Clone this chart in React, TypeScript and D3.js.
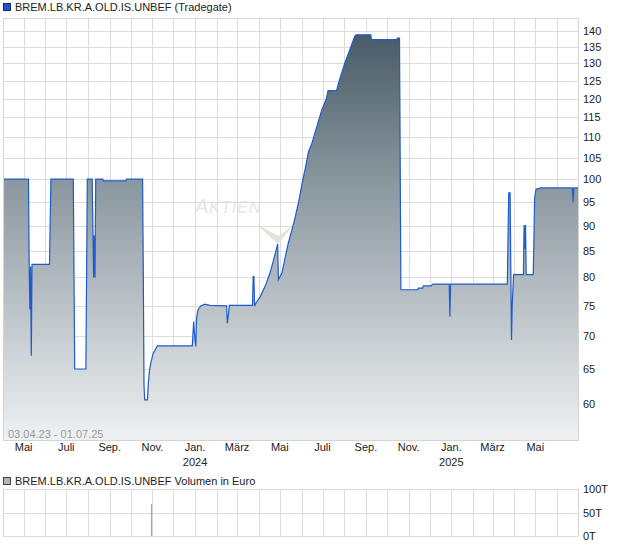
import React, { useEffect, useRef } from 'react';
import * as d3 from 'd3';

// price readings (Tradegate), date + close
const priceSeries: [string, number][] = [
  ['2023-04-03', 100.0],
  ['2023-05-08', 100.0],
  ['2023-05-09', 82.0],
  ['2023-05-10', 74.4],
  ['2023-05-11', 82.0],
  ['2023-05-12', 67.0],
  ['2023-05-13', 82.4],
  ['2023-06-07', 82.4],
  ['2023-06-08', 90.8],
  ['2023-06-09', 100.0],
  ['2023-07-11', 100.0],
  ['2023-07-12', 80.6],
  ['2023-07-13', 65.0],
  ['2023-07-29', 65.0],
  ['2023-07-30', 80.6],
  ['2023-07-31', 100.0],
  ['2023-08-07', 100.0],
  ['2023-08-08', 89.5],
  ['2023-08-09', 80.0],
  ['2023-08-10', 88.0],
  ['2023-08-11', 80.0],
  ['2023-08-12', 100.0],
  ['2023-08-22', 100.0],
  ['2023-08-23', 99.6],
  ['2023-09-24', 99.6],
  ['2023-09-25', 100.0],
  ['2023-10-18', 100.0],
  ['2023-10-19', 80.6],
  ['2023-10-20', 62.6],
  ['2023-10-21', 60.6],
  ['2023-10-25', 60.6],
  ['2023-10-26', 62.7],
  ['2023-10-28', 64.9],
  ['2023-10-30', 66.0],
  ['2023-11-02', 67.3],
  ['2023-11-05', 67.9],
  ['2023-11-08', 68.5],
  ['2023-12-28', 68.5],
  ['2023-12-29', 70.5],
  ['2023-12-30', 72.4],
  ['2023-12-31', 70.5],
  ['2024-01-02', 68.4],
  ['2024-01-03', 72.8],
  ['2024-01-05', 74.3],
  ['2024-01-09', 75.0],
  ['2024-01-15', 75.3],
  ['2024-01-22', 75.1],
  ['2024-02-15', 75.0],
  ['2024-02-16', 72.1],
  ['2024-02-18', 74.0],
  ['2024-02-19', 75.1],
  ['2024-03-23', 75.1],
  ['2024-03-24', 80.2],
  ['2024-03-25', 80.2],
  ['2024-03-26', 75.0],
  ['2024-03-28', 75.5],
  ['2024-04-03', 76.6],
  ['2024-04-10', 78.4],
  ['2024-04-17', 80.8],
  ['2024-04-24', 84.2],
  ['2024-04-27', 85.8],
  ['2024-04-28', 86.3],
  ['2024-04-29', 79.6],
  ['2024-05-04', 80.8],
  ['2024-05-09', 83.9],
  ['2024-05-13', 86.4],
  ['2024-05-21', 90.5],
  ['2024-05-28', 95.0],
  ['2024-06-02', 99.1],
  ['2024-06-07', 102.9],
  ['2024-06-11', 106.4],
  ['2024-06-16', 108.5],
  ['2024-06-23', 112.7],
  ['2024-06-30', 117.0],
  ['2024-07-06', 119.7],
  ['2024-07-09', 122.2],
  ['2024-07-21', 122.2],
  ['2024-07-26', 125.7],
  ['2024-08-02', 130.1],
  ['2024-08-09', 134.1],
  ['2024-08-16', 138.2],
  ['2024-08-18', 138.7],
  ['2024-09-08', 138.7],
  ['2024-09-09', 137.2],
  ['2024-10-15', 137.2],
  ['2024-10-16', 137.7],
  ['2024-10-19', 137.7],
  ['2024-10-20', 103.7],
  ['2024-10-21', 77.8],
  ['2024-11-14', 77.8],
  ['2024-11-15', 78.1],
  ['2024-11-21', 78.1],
  ['2024-11-22', 78.5],
  ['2024-12-03', 78.5],
  ['2024-12-04', 78.6],
  ['2024-12-06', 78.8],
  ['2024-12-29', 78.8],
  ['2024-12-30', 73.2],
  ['2024-12-31', 78.8],
  ['2025-03-22', 78.8],
  ['2025-03-23', 87.1],
  ['2025-03-24', 96.9],
  ['2025-03-26', 96.9],
  ['2025-03-27', 81.7],
  ['2025-03-28', 69.4],
  ['2025-03-29', 75.1],
  ['2025-03-31', 80.5],
  ['2025-04-14', 80.5],
  ['2025-04-15', 90.1],
  ['2025-04-16', 85.4],
  ['2025-04-17', 90.1],
  ['2025-04-18', 80.5],
  ['2025-04-28', 80.5],
  ['2025-04-29', 87.1],
  ['2025-04-30', 95.8],
  ['2025-05-02', 97.7],
  ['2025-05-09', 98.0],
  ['2025-06-23', 98.0],
  ['2025-06-24', 94.9],
  ['2025-06-25', 98.0],
  ['2025-07-01', 98.0]
];

// volume in thousand euro
const volumeSeries: [string, number][] = [['2023-10-30', 68]];

const priceTicks = [60, 65, 70, 75, 80, 85, 90, 95, 100, 105, 110, 115, 120, 125, 130, 135, 140];
const volumeTicks = [0, 50, 100];
const monthNames = ['Jan.', 'Feb.', 'März', 'Apr.', 'Mai', 'Juni', 'Juli', 'Aug.', 'Sep.', 'Okt.', 'Nov.', 'Dez.'];

const legendText = 'BREM.LB.KR.A.OLD.IS.UNBEF (Tradegate)';
const volumeLegendText = 'BREM.LB.KR.A.OLD.IS.UNBEF Volumen in Euro';
const rangeText = '03.04.23 - 01.07.25';
const startDate = '2023-04-03';
const endDate = '2025-07-01';

const W = 620;
const H = 546;
const FONT = '"Liberation Sans", Arial, sans-serif';

const App = () => {
  const container = useRef(null);

  useEffect(() => {
    drawChart();
  }, []);

  const drawChart = () => {
    const parse = d3.timeParse('%Y-%m-%d');
    const prices = priceSeries.map(d => ({ time: parse(d[0]), value: d[1] }));
    const volumes = volumeSeries.map(d => ({ time: parse(d[0]), value: d[1] }));

    const plot = { l: 3, r: 578, t: 18, b: 440 };
    const vplot = { t: 489, b: 536 };

    const svg = d3
      .select(container.current)
      .selectAll('svg')
      .data([0])
      .join('svg')
      .attr('width', W)
      .attr('height', H)
      .style('position', 'absolute')
      .style('left', '0px')
      .style('top', '0px')
      .style('font-family', FONT);

    svg.selectAll('*').remove();

    const xScale = d3
      .scaleTime()
      .domain([parse(startDate), parse(endDate)])
      .range([plot.l + 1, plot.r]);

    const yScale = d3.scaleLog().domain([55.33, 144.1]).range([plot.b, plot.t]);

    const vScale = d3.scaleLinear().domain([0, 100]).range([vplot.b, vplot.t]);

    const months = d3.timeMonth.range(d3.timeMonth.ceil(parse(startDate)), parse(endDate));

    // gradient for the area
    const defs = svg.append('defs');
    const grad = defs
      .append('linearGradient')
      .attr('id', 'areaGrad')
      .attr('gradientUnits', 'userSpaceOnUse')
      .attr('x1', 0)
      .attr('x2', 0)
      .attr('y1', 30)
      .attr('y2', plot.b);
    grad.append('stop').attr('offset', '0%').attr('stop-color', '#465966');
    grad.append('stop').attr('offset', '37%').attr('stop-color', '#8a979e');
    grad.append('stop').attr('offset', '100%').attr('stop-color', '#eff1f3');

    /* MAIN PLOT GRID */
    const gridg = svg.append('g').attr('class', 'gridg');
    gridg
      .selectAll('.vgrid')
      .data(months)
      .join('line')
      .attr('class', 'vgrid')
      .attr('x1', d => Math.round(xScale(d)) + 0.5)
      .attr('x2', d => Math.round(xScale(d)) + 0.5)
      .attr('y1', plot.t)
      .attr('y2', plot.b)
      .style('stroke', '#dcdcdc');
    gridg
      .selectAll('.hgrid')
      .data(priceTicks)
      .join('line')
      .attr('class', 'hgrid')
      .attr('x1', plot.l)
      .attr('x2', plot.r)
      .attr('y1', d => Math.round(yScale(d)) + 0.5)
      .attr('y2', d => Math.round(yScale(d)) + 0.5)
      .style('stroke', '#dcdcdc');

    // watermark
    const wm = svg.append('g').attr('class', 'watermark');
    const wmText = wm
      .append('text')
      .attr('x', 195)
      .attr('y', 213)
      .style('font-style', 'italic')
      .style('fill', '#e8e4df')
      .style('letter-spacing', '1px');
    wmText.append('tspan').style('font-size', '20px').text('A');
    wmText.append('tspan').style('font-size', '16px').text('KTIEN');
    wm.append('path')
      .attr('d', 'M256,224 L278,244 L296,222 L279,236 Z')
      .style('fill', '#e6e1db');

    /* AREA + LINE */
    const area = d3
      .area<any>()
      .x(d => xScale(d.time))
      .y0(plot.b)
      .y1(d => yScale(d.value));

    const line = d3
      .line<any>()
      .x(d => xScale(d.time))
      .y(d => yScale(d.value));

    svg
      .append('path')
      .datum(prices)
      .attr('d', area)
      .style('fill', 'url(#areaGrad)');

    svg
      .append('path')
      .datum(prices)
      .attr('d', line)
      .style('fill', 'none')
      .style('stroke', '#1f5bcc')
      .style('stroke-width', 1.2);

    // plot frame
    svg
      .append('rect')
      .attr('x', plot.l + 0.5)
      .attr('y', plot.t + 0.5)
      .attr('width', plot.r - plot.l)
      .attr('height', plot.b - plot.t)
      .style('fill', 'none')
      .style('stroke', '#d4d4d4');

    svg
      .append('text')
      .attr('x', 8)
      .attr('y', 438)
      .style('font-size', '11px')
      .style('fill', '#9a9a9a')
      .text(rangeText);

    /* Y AXIS LABELS */
    svg
      .append('g')
      .selectAll('text')
      .data(priceTicks)
      .join('text')
      .attr('x', 583)
      .attr('y', d => yScale(d) + 4)
      .style('font-size', '11px')
      .style('fill', '#222')
      .text(d => d);

    /* X AXIS LABELS */
    const labelMonths = months.filter(d => d.getMonth() % 2 === 0);
    const xlabelg = svg.append('g').attr('class', 'xlabelg');
    xlabelg
      .selectAll('.mlabel')
      .data(labelMonths)
      .join('text')
      .attr('class', 'mlabel')
      .attr('x', d => xScale(d))
      .attr('y', 451)
      .attr('text-anchor', 'middle')
      .style('font-size', '11px')
      .style('fill', '#222')
      .text(d => monthNames[d.getMonth()]);
    xlabelg
      .selectAll('.ylabel')
      .data(labelMonths.filter(d => d.getMonth() === 0))
      .join('text')
      .attr('class', 'ylabel')
      .attr('x', d => xScale(d))
      .attr('y', 466)
      .attr('text-anchor', 'middle')
      .style('font-size', '11px')
      .style('fill', '#222')
      .text(d => d.getFullYear());

    /* LEGENDS */
    svg
      .append('rect')
      .attr('x', 3.5)
      .attr('y', 3.5)
      .attr('width', 7)
      .attr('height', 7)
      .style('fill', '#1f55c8')
      .style('stroke', '#1a2a55');
    svg
      .append('text')
      .attr('x', 15)
      .attr('y', 11)
      .style('font-size', '11px')
      .style('fill', '#222')
      .text(legendText);

    svg
      .append('rect')
      .attr('x', 3.5)
      .attr('y', 477.5)
      .attr('width', 7)
      .attr('height', 7)
      .style('fill', '#b4b4b4')
      .style('stroke', '#444');
    svg
      .append('text')
      .attr('x', 15)
      .attr('y', 485)
      .style('font-size', '11px')
      .style('fill', '#222')
      .text(volumeLegendText);

    /* VOLUME PLOT */
    const vg = svg.append('g').attr('class', 'volumeg');
    vg.selectAll('.vgrid')
      .data(months)
      .join('line')
      .attr('class', 'vgrid')
      .attr('x1', d => Math.round(xScale(d)) + 0.5)
      .attr('x2', d => Math.round(xScale(d)) + 0.5)
      .attr('y1', vplot.t)
      .attr('y2', vplot.b)
      .style('stroke', '#dcdcdc');
    vg.selectAll('.hgrid')
      .data(volumeTicks)
      .join('line')
      .attr('class', 'hgrid')
      .attr('x1', plot.l)
      .attr('x2', plot.r)
      .attr('y1', d => Math.round(vScale(d)) + 0.5)
      .attr('y2', d => Math.round(vScale(d)) + 0.5)
      .style('stroke', '#dcdcdc');
    vg.append('line')
      .attr('x1', plot.l + 0.5)
      .attr('x2', plot.l + 0.5)
      .attr('y1', vplot.t)
      .attr('y2', vplot.b)
      .style('stroke', '#d4d4d4');
    vg.append('line')
      .attr('x1', plot.r + 0.5)
      .attr('x2', plot.r + 0.5)
      .attr('y1', vplot.t)
      .attr('y2', vplot.b)
      .style('stroke', '#d4d4d4');

    vg.selectAll('.vbar')
      .data(volumes)
      .join('line')
      .attr('class', 'vbar')
      .attr('x1', d => Math.round(xScale(d.time)) + 0.5)
      .attr('x2', d => Math.round(xScale(d.time)) + 0.5)
      .attr('y1', vScale(0))
      .attr('y2', d => vScale(d.value))
      .style('stroke', '#55dd55')
      .style('stroke-width', 1.2);

    vg.selectAll('.vlabel')
      .data(volumeTicks)
      .join('text')
      .attr('class', 'vlabel')
      .attr('x', 583)
      .attr('y', d => vScale(d) + 4)
      .style('font-size', '11px')
      .style('fill', '#222')
      .text(d => d + 'T');
  };

  return <div className="chart-container" ref={container}></div>;
};

export default App;
